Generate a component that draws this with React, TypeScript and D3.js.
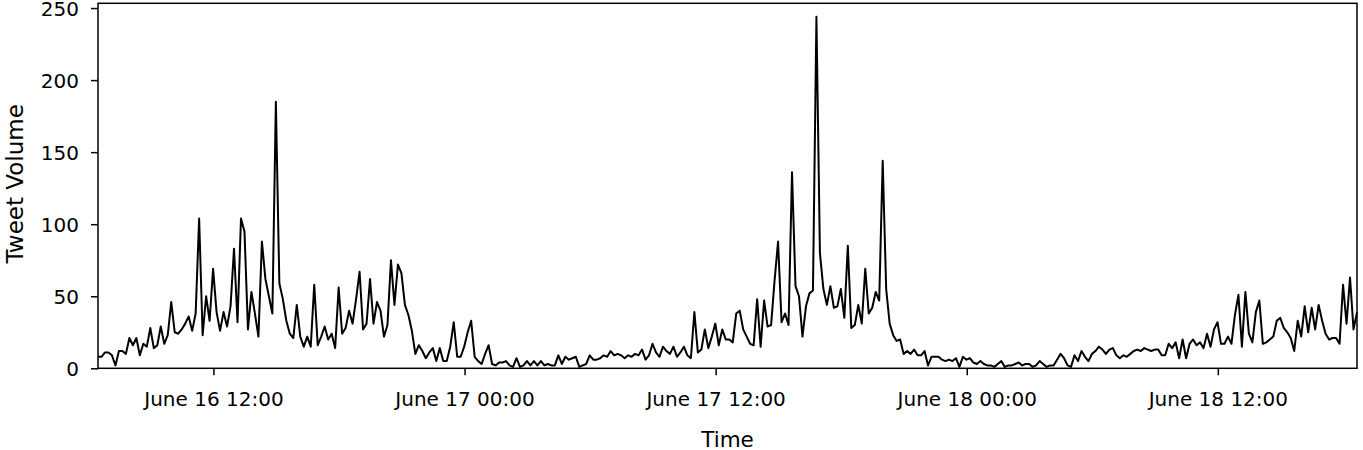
import React, { useEffect, useRef } from "react";
import * as d3 from "d3";

// tweet counts per 10 minute bin, starting June 16 06:29
const volumeJune16Morning = [
  8, 8, 11, 11, 9, 2, 12, 12, 10, 21, 16, 21, 9, 17, 15, 28, 14, 16, 29, 17,
  23, 46, 25, 24, 27, 31, 36, 26, 38, 104, 23, 50, 33, 69, 39, 26, 39, 29, 43, 83,
  32, 104, 95, 27, 53, 38, 22, 88, 62, 50, 38, 185, 59, 48, 33, 24, 21, 44, 22, 15
];
const volumeJune16Evening = [
  22, 15, 58, 16, 22, 29, 20, 24, 14, 56, 24, 28, 40, 31, 48, 67, 27, 31, 62, 31,
  46, 40, 22, 30, 75, 44, 72, 66, 44, 37, 26, 10, 16, 12, 7, 11, 14, 5, 14, 5,
  5, 15, 32, 8, 8, 15, 25, 33, 8, 5, 3, 10, 16, 3, 2, 4, 4, 5, 2, 1
];
const volumeJune17Morning = [
  7, 1, 2, 5, 2, 5, 2, 5, 2, 3, 2, 2, 9, 3, 8, 6, 7, 8, 1, 2,
  3, 9, 6, 6, 7, 9, 8, 12, 9, 10, 9, 7, 9, 8, 10, 9, 13, 6, 9, 17,
  11, 8, 15, 12, 10, 15, 8, 11, 15, 9, 7, 39, 11, 13, 27, 14, 22, 31, 16, 27
];
const volumeJune17Evening = [
  20, 20, 18, 38, 40, 27, 22, 17, 16, 48, 15, 47, 29, 30, 61, 88, 32, 38, 30, 136,
  57, 50, 22, 43, 52, 54, 244, 80, 55, 44, 57, 42, 43, 55, 35, 85, 28, 30, 44, 31,
  69, 38, 42, 53, 47, 144, 55, 31, 23, 19, 20, 10, 12, 10, 13, 9, 9, 12, 2, 8
];
const volumeJune18Morning = [
  8, 8, 6, 5, 6, 5, 7, 1, 8, 6, 7, 4, 3, 5, 3, 2, 2, 1, 3, 5,
  1, 2, 2, 3, 4, 2, 3, 3, 1, 2, 5, 3, 1, 2, 2, 6, 10, 7, 2, 1,
  9, 5, 12, 8, 5, 10, 12, 15, 13, 10, 13, 14, 9, 7, 9, 8, 10, 12, 13, 12
];
const volumeJune18Afternoon = [
  14, 13, 12, 13, 13, 9, 9, 17, 14, 18, 7, 20, 7, 17, 20, 16, 18, 14, 24, 15,
  27, 32, 17, 17, 22, 17, 37, 51, 15, 53, 24, 18, 39, 47, 17, 18, 20, 22, 33, 35,
  28, 25, 21, 12, 33, 22, 43, 25, 42, 27, 44, 33, 24, 20, 21, 21, 17, 58, 31, 63,
  27, 39
];

const startTime = new Date(2017, 5, 16, 6, 29);
const binMinutes = 10;
const yTicks = [0, 50, 100, 150, 200, 250];

const volumes = [
  ...volumeJune16Morning,
  ...volumeJune16Evening,
  ...volumeJune17Morning,
  ...volumeJune17Evening,
  ...volumeJune18Morning,
  ...volumeJune18Afternoon
];
const data = volumes.map((v, i) => ({
  date: d3.timeMinute.offset(startTime, i * binMinutes),
  value: v
}));

const W = 1363;
const H = 450;
const margin = { top: 3.3, right: 6, bottom: 81.7, left: 98 };
const FONT = "DejaVu Sans, sans-serif";

export default function App() {
  const ref = useRef(null);

  useEffect(() => {
    const svg = d3.select(ref.current);
    svg.selectAll("*").remove();
    const width = W - margin.left - margin.right;
    const height = H - margin.top - margin.bottom;

    const g = svg
      .append("g")
      .attr("transform", `translate(${margin.left},${margin.top})`);

    const x = d3
      .scaleTime()
      .domain(d3.extent(data, d => d.date))
      .range([0, width]);
    const y = d3.scaleLinear().domain([0, 253.3]).range([height, 0]);

    const line = d3
      .line()
      .x(d => x(d.date))
      .y(d => y(d.value));

    g.append("path")
      .datum(data)
      .attr("fill", "none")
      .attr("stroke", "#000")
      .attr("stroke-width", 2)
      .attr("stroke-linejoin", "round")
      .attr("d", line);

    // x axis
    const xAxis = g
      .append("g")
      .attr("transform", `translate(0,${height})`)
      .call(
        d3
          .axisBottom(x)
          .ticks(d3.timeHour.every(12))
          .tickFormat(d3.timeFormat("%B %d %H:%M"))
          .tickSize(7)
      );
    xAxis.select(".domain").remove();
    xAxis.selectAll(".tick line").attr("stroke", "#000").attr("stroke-width", 1.5);
    xAxis
      .selectAll(".tick text")
      .attr("y", 37.7)
      .attr("dy", 0)
      .attr("fill", "#000")
      .style("font-family", FONT)
      .style("font-size", "20px");

    // y axis
    const yAxis = g
      .append("g")
      .call(d3.axisLeft(y).tickValues(yTicks).tickSize(7));
    yAxis.select(".domain").remove();
    yAxis.selectAll(".tick line").attr("stroke", "#000").attr("stroke-width", 1.5);
    yAxis
      .selectAll(".tick text")
      .attr("x", -19)
      .attr("dy", "0.36em")
      .attr("fill", "#000")
      .style("font-family", FONT)
      .style("font-size", "20px");

    // frame
    g.append("rect")
      .attr("width", width)
      .attr("height", height)
      .attr("fill", "none")
      .attr("stroke", "#000")
      .attr("stroke-width", 1.5);

    svg
      .append("text")
      .attr("x", margin.left + width / 2)
      .attr("y", 447)
      .attr("text-anchor", "middle")
      .style("font-family", FONT)
      .style("font-size", "21.5px")
      .text("Time");

    svg
      .append("text")
      .attr("transform", `translate(23,${margin.top + height / 2 - 2}) rotate(-90)`)
      .attr("text-anchor", "middle")
      .style("font-family", FONT)
      .style("font-size", "23px")
      .text("Tweet Volume");
  }, []);

  return (
    <svg
      ref={ref}
      width={W}
      height={H}
      style={{ position: "absolute", left: 0, top: 0, background: "#fff" }}
    />
  );
}
